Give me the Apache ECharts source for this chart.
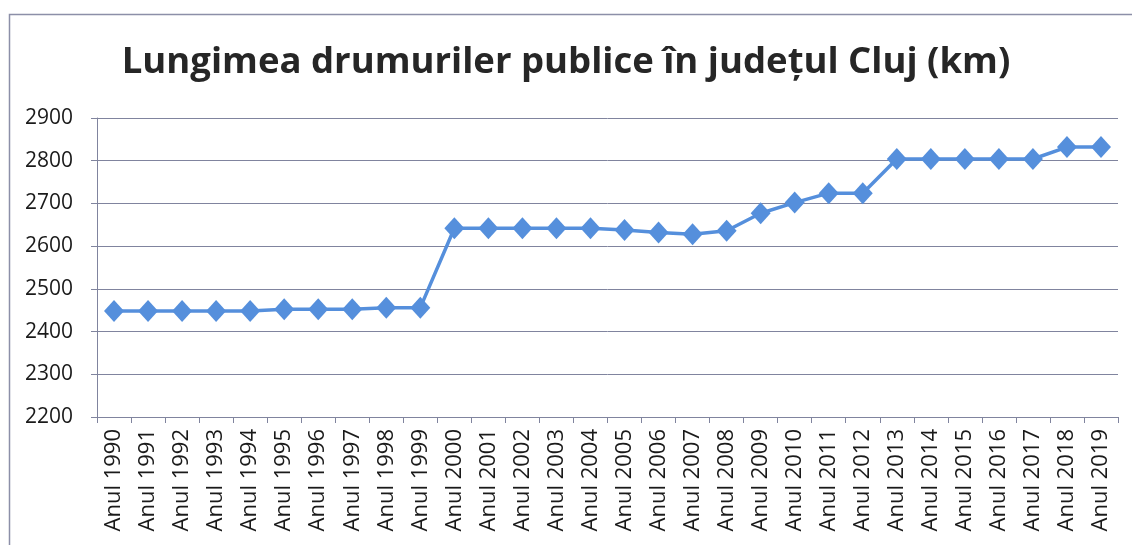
<!DOCTYPE html>
<html>
<head>
<meta charset="utf-8">
<script src="https://cdn.jsdelivr.net/npm/echarts@6/dist/echarts.min.js"></script>
<style>
html,body{margin:0;padding:0;background:#fff;}
#c{width:1132px;height:545px;}
</style>
</head>
<body>
<div id="c"></div>
<script>
const title = 'Lungimea drumuriler publice în județul Cluj (km)';
const years = ['Anul 1990','Anul 1991','Anul 1992','Anul 1993','Anul 1994','Anul 1995','Anul 1996','Anul 1997','Anul 1998','Anul 1999',
  'Anul 2000','Anul 2001','Anul 2002','Anul 2003','Anul 2004','Anul 2005','Anul 2006','Anul 2007','Anul 2008','Anul 2009',
  'Anul 2010','Anul 2011','Anul 2012','Anul 2013','Anul 2014','Anul 2015','Anul 2016','Anul 2017','Anul 2018','Anul 2019'];
const lengths = [2448,2448,2448,2448,2448,2452,2452,2452,2456,2456,
  2642,2642,2642,2642,2642,2638,2632,2628,2636,2677,
  2702,2724,2724,2804,2804,2804,2804,2804,2832,2832];
const yMin = 2200, yMax = 2900, yStep = 100;

const chart = echarts.init(document.getElementById('c'));
const axisCol = '#80849e';
chart.setOption({
  animation: false,
  backgroundColor: '#fff',
  graphic: [{
    type: 'rect', left: 7, top: 12, shape: {width: 1200, height: 600},
    style: {fill: 'none', stroke: '#8c8fa8', lineWidth: 1.5}, silent: true
  }],
  title: {
    text: title, left: 'center', top: 39, padding: [5, 5, 5, 25],
    textStyle: {fontFamily: 'Open Sans', fontWeight: 'bold', fontSize: 36.5, color: '#262626'}
  },
  grid: {left: 97, right: 14, top: 118, bottom: 128},
  xAxis: {
    type: 'category', data: years, boundaryGap: true,
    axisLine: {lineStyle: {color: axisCol, width: 1}},
    axisTick: {show: true, length: 6, lineStyle: {color: axisCol}},
    axisLabel: {rotate: 90, fontFamily: 'Open Sans', fontSize: 22, color: '#1a1a1a', margin: 12, interval: 0}
  },
  yAxis: {
    type: 'value', min: yMin, max: yMax, interval: yStep,
    axisLine: {show: true, lineStyle: {color: axisCol}},
    axisTick: {show: true, length: 6, lineStyle: {color: axisCol}},
    splitLine: {lineStyle: {color: axisCol, width: 1}},
    axisLabel: {fontFamily: 'Open Sans', fontSize: 21, color: '#1a1a1a', margin: 24,
      formatter: v => String(v)}
  },
  series: [{
    type: 'line', data: lengths,
    symbol: 'diamond', symbolSize: [20, 22],
    lineStyle: {color: '#558fdc', width: 3.5},
    itemStyle: {color: '#558fdc'}
  }]
});
</script>
</body>
</html>
